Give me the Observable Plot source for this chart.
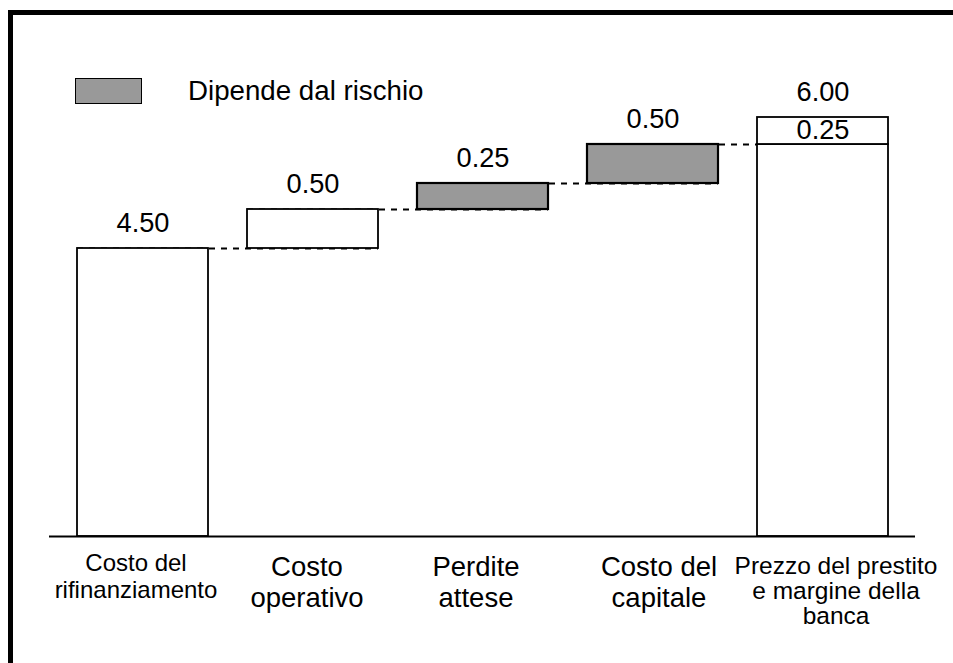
<!DOCTYPE html>
<html>
<head>
<meta charset="utf-8">
<script src="https://cdn.jsdelivr.net/npm/d3@7"></script>
<script src="https://cdn.jsdelivr.net/npm/@observablehq/plot@0.6"></script>
<style>
  html, body { margin: 0; padding: 0; background: #fff; overflow: hidden; }
  #wrap { position: relative; width: 953px; height: 663px; font-family: "Liberation Sans", Arial, sans-serif; }
  #frame { position: absolute; left: 8px; top: 10px; width: 945px; height: 653px; box-sizing: border-box;
           border-top: 5px solid #000; border-left: 5px solid #000; pointer-events: none; }
  #legend { position: absolute; left: 75px; top: 78px; display: flex; align-items: center; }
  #legend .sw { width: 67px; height: 26px; box-sizing: border-box; background: #999999; border: 1.5px solid #000; }
  #legend .lb { margin-left: 46px; font-size: 27.7px; color: #000; line-height: 26px; }
  #chart { position: absolute; left: 0; top: 0; }
</style>
</head>
<body>
<div id="wrap">
  <div id="chart"></div>
  <div id="frame"></div>
  <div id="legend"><div class="sw"></div><div class="lb"></div></div>
</div>
<script>
// ---- data ----
const categories = [
  "Costo del rifinanziamento",
  "Costo operativo",
  "Perdite attese",
  "Costo del capitale",
  "Prezzo del prestito e margine della banca"
];
const categoryLabels = [
  "Costo del\nrifinanziamento",
  "Costo\noperativo",
  "Perdite\nattese",
  "Costo del\ncapitale",
  "Prezzo del prestito\ne margine della\nbanca"
];
const values = [4.50, 0.50, 0.25, 0.50, 6.00];
const riskDependent = [false, false, true, true, false];
const bankMargin = 0.25;
const legendLabel = "Dipende dal rischio";

// ---- derived tables ----
const bars = [];
let run = 0;
for (let i = 0; i < categories.length - 1; i++) {
  bars.push({cat: categories[i], lo: run, hi: run + values[i], risk: riskDependent[i], label: values[i].toFixed(2)});
  run += values[i];
}
const last = categories.length - 1;
const total = values[last];
const costTop = total - bankMargin;
bars.push({cat: categories[last], lo: 0, hi: costTop, risk: riskDependent[last], label: null});
bars.push({cat: categories[last], lo: costTop, hi: total, risk: riskDependent[last], label: total.toFixed(2), inner: bankMargin.toFixed(2)});

const connectors = [];
for (let i = 0; i < categories.length - 1; i++) {
  connectors.push({x1: categories[i], x2: categories[i + 1], y: bars[i].hi});
}
const levels = [0, ...bars.slice(0, categories.length - 1).map(d => d.hi), total];

document.querySelector("#legend .lb").textContent = legendLabel;

// ---- label styling per category ----
const catStyle = [
  {fontSize: 24, lineHeight: 1.13, dy: 15, dx: -7},
  {fontSize: 27.5, lineHeight: 1.13, dy: 17, dx: -6},
  {fontSize: 27.5, lineHeight: 1.13, dy: 17, dx: -7},
  {fontSize: 27.5, lineHeight: 1.13, dy: 17, dx: 6},
  {fontSize: 24.5, lineHeight: 1.01, dy: 20, dx: 13}
];

const catMarks = categories.map((c, i) =>
  Plot.text([c], {
    x: d => d, y: [0], text: [categoryLabels[i]],
    lineAnchor: "top", textAnchor: "middle",
    fontSize: catStyle[i].fontSize, lineHeight: catStyle[i].lineHeight,
    dy: catStyle[i].dy, dx: catStyle[i].dx, fill: "#000"
  })
);

const plot = Plot.plot({
  width: 953,
  height: 663,
  marginLeft: 49,
  marginRight: 38,
  marginTop: 0,
  marginBottom: 0,
  style: {background: "transparent", fontFamily: "Liberation Sans, Arial, sans-serif", overflow: "visible"},
  x: {type: "band", domain: categories, paddingInner: 0.23, paddingOuter: 0.155, axis: null},
  y: {type: "linear", domain: levels, range: [536, 248, 209, 183, 144, 117], axis: null},
  marks: [
    Plot.ruleY(connectors, {x1: "x1", x2: "x2", y: "y", stroke: "#000", strokeWidth: 2, strokeDasharray: "6,6"}),
    Plot.rectY(bars.filter(d => !d.risk), {x: "cat", y1: "lo", y2: "hi", fill: "#fff", stroke: "#000", strokeWidth: 1.8}),
    Plot.rectY(bars.filter(d => d.risk), {x: "cat", y1: "lo", y2: "hi", fill: "#999999", stroke: "#000", strokeWidth: 2.2}),
    Plot.ruleY([0], {stroke: "#000", strokeWidth: 2}),
    Plot.text(bars.filter(d => d.label), {x: "cat", y: "hi", text: "label", lineAnchor: "bottom", dy: -17, fontSize: 27.2, fill: "#000"}),
    Plot.text(bars.filter(d => d.inner), {x: "cat", y: "lo", text: "inner", lineAnchor: "bottom", dy: -6, fontSize: 27.2, fill: "#000"}),
    ...catMarks
  ]
});
document.getElementById("chart").appendChild(plot);
</script>
</body>
</html>
